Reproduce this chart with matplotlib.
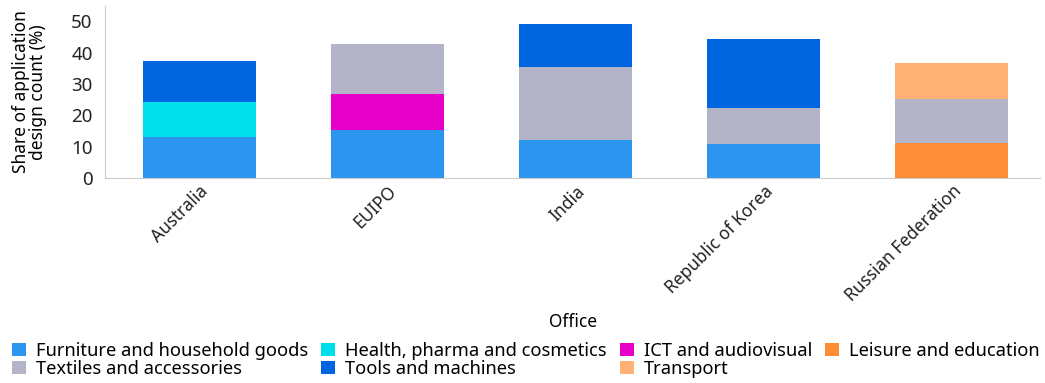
import numpy as np
import matplotlib.pyplot as plt

plt.rcParams['font.family'] = ['Noto Sans', 'DejaVu Sans']

# Data
offices = ['Australia', 'EUIPO', 'India', 'Republic of Korea', 'Russian Federation']
furniture = [13.0, 15.3, 12.1, 10.8, 0]
health = [11.2, 0, 0, 0, 0]
ict = [0, 11.4, 0, 0, 0]
leisure = [0, 0, 0, 0, 11.1]
textiles = [0, 16.2, 23.2, 11.5, 14.0]
tools = [13.3, 0, 14.0, 22.2, 0]
transport = [0, 0, 0, 0, 11.5]

series = [
    ('Furniture and household goods', furniture, '#2B95F0'),
    ('Health, pharma and cosmetics', health, '#00E0EC'),
    ('ICT and audiovisual', ict, '#E600C8'),
    ('Leisure and education', leisure, '#FF8C36'),
    ('Textiles and accessories', textiles, '#B3B4C8'),
    ('Tools and machines', tools, '#0066E0'),
    ('Transport', transport, '#FFB176'),
]

fig = plt.figure(figsize=(10.45, 3.83), dpi=100)
ax = fig.add_axes([0.1005, 0.535, 0.895, 0.45])

x = np.arange(len(offices))
bottom = np.zeros(len(offices))
handles = []
for name, vals, col in series:
    vals = np.array(vals, dtype=float)
    h = ax.bar(x, vals, 0.6, bottom=bottom, color=col, label=name)
    handles.append(h)
    bottom += vals

ax.set_xlim(-0.5, 4.47)
ax.set_ylim(0, 55)
ax.set_yticks([0, 10, 20, 30, 40, 50])
ax.set_xticks(x)
ax.set_xticklabels(offices, rotation=45, ha='right', rotation_mode='anchor')
ax.tick_params(length=0, colors='#222222')
ax.tick_params(axis='x', pad=3, labelsize=12.5)
ax.tick_params(axis='y', pad=9, labelsize=13.5)
ax.set_ylabel('Share of application\ndesign count (%)', fontsize=12.5, linespacing=0.95)
ax.yaxis.set_label_coords(-0.062, 0.5)
ax.set_xlabel('Office', fontsize=12.5)
ax.xaxis.set_label_coords(0.5, -0.78)
for s in ['top', 'right']:
    ax.spines[s].set_visible(False)
for s in ['left', 'bottom']:
    ax.spines[s].set_color('#cccccc')

# matplotlib fills legend columns first, so reorder to read row by row
order = [0, 4, 1, 5, 2, 6, 3]
leg = fig.legend([handles[i] for i in order], [series[i][0] for i in order],
                 loc='lower left', bbox_to_anchor=(0.001, -0.015), ncol=4, frameon=False,
                 fontsize=13.2, handlelength=0.75, handleheight=0.75, handletextpad=0.55,
                 columnspacing=0.72, labelspacing=0.0, borderaxespad=0.2)

fig.savefig('out.png', dpi=100)
